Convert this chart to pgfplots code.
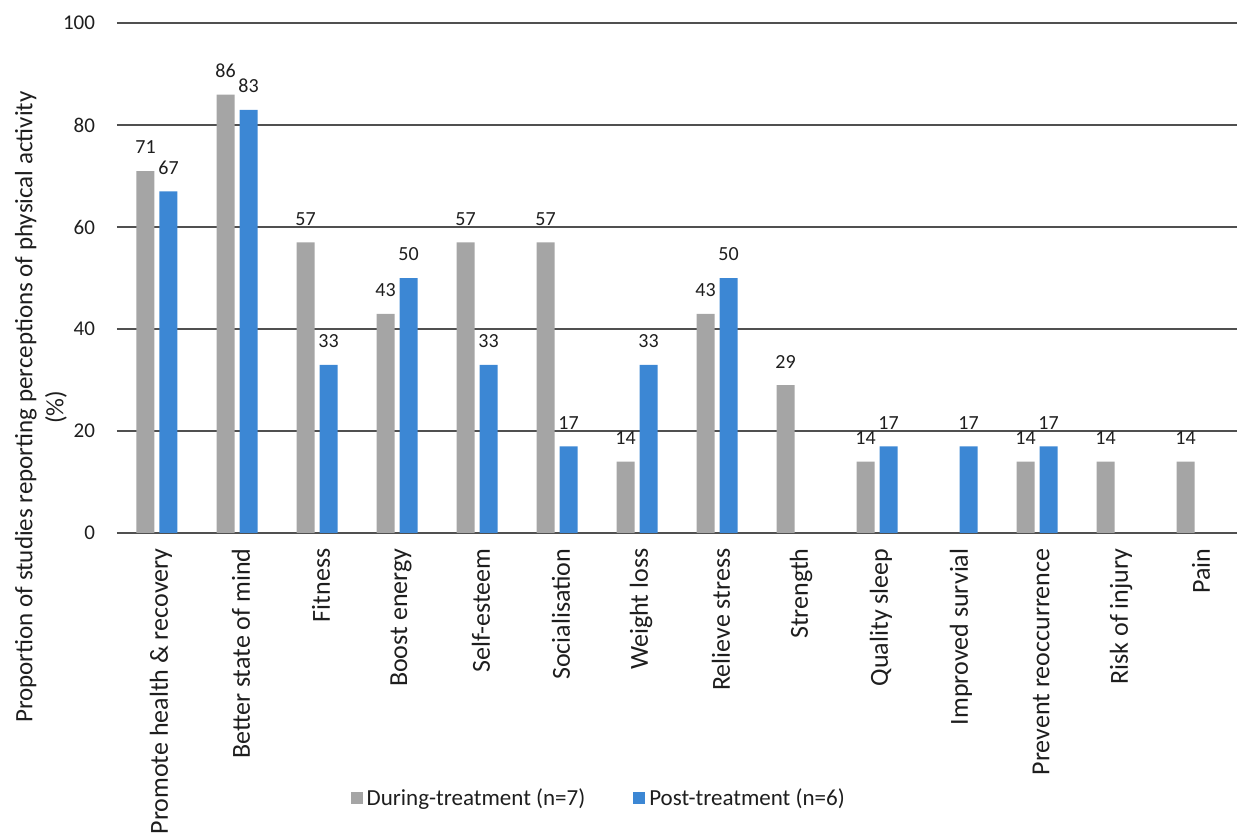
\documentclass[border=0pt]{standalone}
\usepackage{fontspec}
\setmainfont{Carlito}
\usepackage{pgfplots}
\pgfplotsset{compat=1.18}
\definecolor{during}{RGB}{165,165,165}
\definecolor{post}{RGB}{60,135,212}
\definecolor{gridc}{RGB}{80,80,80}
\definecolor{txt}{RGB}{30,30,30}

\begin{document}
\begin{tikzpicture}
\begin{axis}[
  at={(0,0)}, anchor=south west,
  scale only axis, width=560pt, height=254.9pt,
  ybar, bar width=9pt,
  xmin=-0.5, xmax=13.5, ymin=0, ymax=100,
  ytick={0,20,...,100},
  xtick={0,...,13},
  xticklabels={Promote health \& recovery, Better state of mind, Fitness, Boost energy,
    Self-esteem, Socialisation, Weight loss, Relieve stress, Strength, Quality sleep,
    Improved survial, Prevent reoccurrence, Risk of injury, Pain},
  /pgf/number format/assume math mode=true,
  axis line style={draw=none},
  tick style={draw=none},
  ymajorgrids, grid style={gridc, line width=1pt},
  yticklabel style={font=\fontsize{10.5}{12}\selectfont, text=txt, xshift=-7.5pt},
  xticklabel style={rotate=90, anchor=east, font=\fontsize{13}{15}\selectfont, text=txt, yshift=-2pt},
  ylabel={Proportion of studies reporting perceptions of physical activity\\(\%)},
  ylabel style={align=center, at={(axis description cs:-0.068,0.247)}, anchor=center,
    font=\fontsize{12.5}{15.5}\selectfont, text=txt},
  legend style={at={(axis description cs:0.431,-0.52)}, anchor=center, draw=none,
    legend columns=2, font=\fontsize{11.5}{13}\selectfont, text=txt,
    /tikz/every even column/.append style={column sep=22pt}},
  nodes near coords,
  every node near coord/.append style={font=\fontsize{10}{12}\selectfont, text=txt, yshift=5pt},
]
\addplot[fill=during, draw=none, bar shift=-5.75pt,
  legend image code/.code={\fill[during] (0pt,-3pt) rectangle (6pt,3pt);}]
  coordinates {(0,71) (1,86) (2,57) (3,43) (4,57) (5,57) (6,14) (7,43) (8,29)
               (9,14) (11,14) (12,14) (13,14)};
\addplot[fill=post, draw=none, bar shift=5.75pt,
  legend image code/.code={\fill[post] (0pt,-3pt) rectangle (6pt,3pt);}]
  coordinates {(0,67) (1,83) (2,33) (3,50) (4,33) (5,17) (6,33) (7,50)
               (9,17) (10,17) (11,17)};
\legend{During-treatment (n=7), Post-treatment (n=6)}
\end{axis}
\pgfresetboundingbox
\path (-58.5pt,-153pt) rectangle (560pt,266.5pt);
\end{tikzpicture}
\end{document}
